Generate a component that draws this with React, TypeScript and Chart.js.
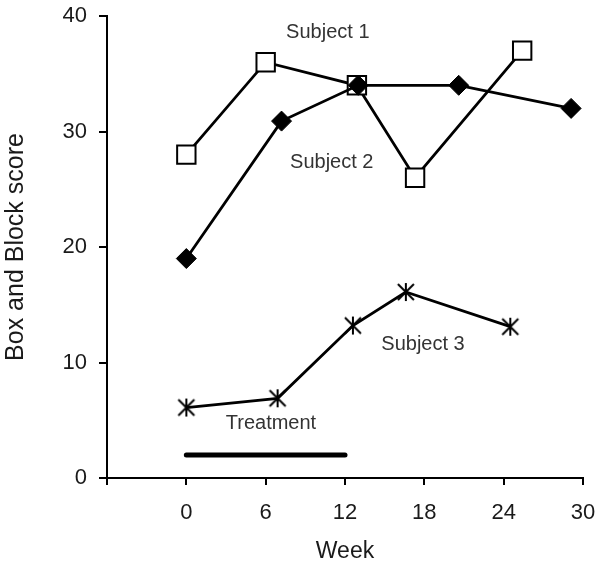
import React, { useEffect, useRef } from "react";
import { Chart, registerables } from "chart.js";

Chart.register(...registerables);

// ---- data ----
const subject1Weeks = [0, 6, 12.9, 17.3, 25.4];
const subject1Scores = [28, 36, 34, 26, 37];
const subject2Weeks = [0, 7.2, 13, 20.6, 29.1];
const subject2Scores = [19, 30.9, 34, 34, 32];
const subject3Weeks = [0, 6.9, 12.6, 16.6, 24.5];
const subject3Scores = [6.1, 6.9, 13.2, 16.1, 13.1];
const treatmentWeeks = [0, 12];
const treatmentLevel = [2, 2];

const xTicks = [0, 6, 12, 18, 24, 30];
const yTicks = [0, 10, 20, 30, 40];

const annotationTexts = ["Subject 1", "Subject 2", "Subject 3", "Treatment"];
const annotationWeeks = [10.7, 11.0, 17.9, 6.4];
const annotationScores = [38.6, 27.3, 11.6, 4.7];

const FONT = "'Liberation Sans', Arial, sans-serif";

function pts(xs: number[], ys: number[]) {
  return xs.map((x, i) => ({ x, y: ys[i] }));
}

function makeAsterisk(): HTMLCanvasElement {
  const c = document.createElement("canvas");
  const s = 20;
  c.width = s;
  c.height = s;
  const ctx = c.getContext("2d")!;
  ctx.strokeStyle = "#000";
  ctx.lineWidth = 2;
  const a = 2;
  const b = 18;
  const m = 10;
  ctx.beginPath();
  ctx.moveTo(a, a);
  ctx.lineTo(b, b);
  ctx.moveTo(a, b);
  ctx.lineTo(b, a);
  ctx.moveTo(m, a - 1);
  ctx.lineTo(m, b + 1);
  ctx.stroke();
  return c;
}

const annotationPlugin = {
  id: "textAnnotations",
  afterDatasetsDraw(chart: any) {
    const { ctx, scales } = chart;
    ctx.save();
    ctx.font = `20px ${FONT}`;
    ctx.fillStyle = "#333";
    ctx.textAlign = "center";
    ctx.textBaseline = "middle";
    annotationTexts.forEach((t, i) => {
      ctx.fillText(
        t,
        scales.x.getPixelForValue(annotationWeeks[i]),
        scales.y.getPixelForValue(annotationScores[i])
      );
    });
    ctx.restore();
  },
};

export default function App() {
  const ref = useRef<HTMLCanvasElement | null>(null);

  useEffect(() => {
    if (!ref.current) return;
    const asterisk = makeAsterisk();
    const chart = new Chart(ref.current, {
      type: "line",
      data: {
        datasets: [
          {
            label: "Subject 2",
            data: pts(subject2Weeks, subject2Scores),
            borderColor: "#000",
            backgroundColor: "#000",
            borderWidth: 2.8,
            pointStyle: "rectRot",
            pointRadius: 10,
            pointBorderWidth: 1,
            pointBackgroundColor: "#000",
            pointBorderColor: "#000",
          },
          {
            label: "Subject 1",
            data: pts(subject1Weeks, subject1Scores),
            borderColor: "#000",
            backgroundColor: "#fff",
            borderWidth: 2.8,
            pointStyle: "rect",
            pointRadius: 13,
            pointBorderWidth: 2,
            pointBackgroundColor: "#fff",
            pointBorderColor: "#000",
          },
          {
            label: "Subject 3",
            data: pts(subject3Weeks, subject3Scores),
            borderColor: "#000",
            borderWidth: 2.8,
            pointStyle: asterisk as any,
            pointRadius: 10,
          },
          {
            label: "Treatment",
            data: pts(treatmentWeeks, treatmentLevel),
            borderColor: "#000",
            borderWidth: 5,
            borderCapStyle: "round",
            pointRadius: 0,
          },
        ],
      },
      options: {
        animation: false,
        responsive: false,
        events: [],
        layout: { padding: { top: 16, right: 18, left: 0, bottom: 0 } },
        plugins: { legend: { display: false }, tooltip: { enabled: false } },
        scales: {
          x: {
            type: "linear",
            min: -6,
            max: 30,
            afterBuildTicks: (scale: any) => {
              scale.ticks = [-6, ...xTicks].map((v) => ({ value: v }));
            },
            afterFit: (scale: any) => {
              scale.height = 87;
              scale.paddingLeft = 0;
              scale.paddingRight = 0;
            },
            ticks: {
              callback: (v: any) => (v < 0 ? "" : String(v)),
              font: { family: FONT, size: 22 },
              color: "#1a1a1a",
              padding: 15,
              maxRotation: 0,
              autoSkip: false,
            },
            grid: {
              display: true,
              drawOnChartArea: false,
              drawTicks: true,
              tickLength: 7,
              color: "#000",
              lineWidth: 2,
            },
            border: { display: true, color: "#000", width: 2 },
            title: {
              display: true,
              text: "Week",
              font: { family: FONT, size: 23 },
              color: "#1a1a1a",
              padding: 0,
            },
          },
          y: {
            type: "linear",
            min: 0,
            max: 40,
            afterBuildTicks: (scale: any) => {
              scale.ticks = yTicks.map((v) => ({ value: v }));
            },
            afterFit: (scale: any) => {
              scale.width = 107;
              scale.paddingTop = 0;
              scale.paddingBottom = 0;
            },
            ticks: {
              font: { family: FONT, size: 22 },
              color: "#1a1a1a",
              padding: 12,
            },
            grid: {
              display: true,
              drawOnChartArea: false,
              drawTicks: true,
              tickLength: 8,
              color: "#000",
              lineWidth: 2,
            },
            border: { display: true, color: "#000", width: 2 },
            title: {
              display: true,
              text: "Box and Block score",
              font: { family: FONT, size: 25 },
              color: "#1a1a1a",
              padding: 1,
            },
          },
        },
      },
      plugins: [annotationPlugin],
    });
    return () => chart.destroy();
  }, []);

  return (
    <div style={{ position: "absolute", left: 0, top: 0, width: 601, height: 565 }}>
      <canvas ref={ref} width={601} height={565} style={{ display: "block" }} />
    </div>
  );
}
